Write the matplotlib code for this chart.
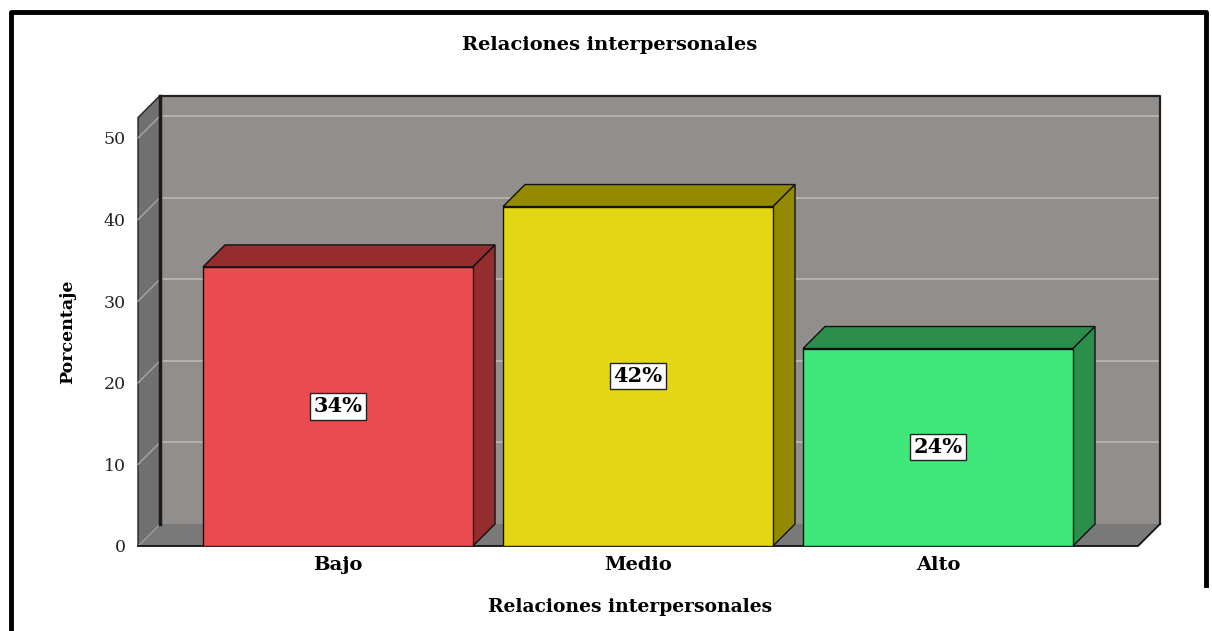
import matplotlib
matplotlib.use("Agg")
import matplotlib.pyplot as plt
from matplotlib.patches import Polygon
from matplotlib.lines import Line2D

# ---- data ----
categories = ["Bajo", "Medio", "Alto"]
values = [34.2, 41.6, 24.2]
front_colors = ["#EA4B4F", "#E2D712", "#40E87C"]
shade_colors = ["#952C2E", "#948A00", "#2B8E4C"]
y_ticks = [0, 10, 20, 30, 40, 50]
title = "Relaciones interpersonales"
x_label = "Relaciones interpersonales"
y_label = "Porcentaje"

W, H = 1212, 631
fig = plt.figure(figsize=(W / 100, H / 100), dpi=100)
fig.patch.set_facecolor("white")

# front plane geometry in pixels
fx0, fx1 = 138, 1138
fy0 = 546          # value 0
ymax = 52.5
px_per_unit = 8.16
fytop = fy0 - ymax * px_per_unit
ax = fig.add_axes([fx0 / W, (H - fy0) / H, (fx1 - fx0) / W, (fy0 - fytop) / H])
x0, x1 = -2 / 3, 8 / 3
ax.set_xlim(x0, x1)
ax.set_ylim(0, ymax)
for s in ax.spines.values():
    s.set_visible(False)
ax.set_facecolor("none")

# depth in data units
depth_px = 22
DX = depth_px * (x1 - x0) / (fx1 - fx0)
DY = depth_px * ymax / (fy0 - fytop)

wall_c = "#928E8B"
grid_c = "#BCB8B4"
left_c = "#717070"
floor_c = "#7A7979"

# back wall
ax.add_patch(Polygon([(x0 + DX, DY), (x1 + DX, DY), (x1 + DX, ymax + DY), (x0 + DX, ymax + DY)],
                     closed=True, facecolor=wall_c, edgecolor="none", zorder=1, clip_on=False))
for t in y_ticks[1:]:
    ax.add_line(Line2D([x0 + DX, x1 + DX], [t + DY, t + DY], color=grid_c, lw=1.2, zorder=1.5, clip_on=False))
ax.add_line(Line2D([x0 + DX, x1 + DX, x1 + DX], [ymax + DY, ymax + DY, DY], color="#222222", lw=1.6,
                   zorder=2, clip_on=False))
ax.add_line(Line2D([x0 + DX, x0 + DX], [DY, ymax + DY], color="#1a1a1a", lw=2.5, zorder=2, clip_on=False))

# left wall
ax.add_patch(Polygon([(x0, 0), (x0, ymax), (x0 + DX, ymax + DY), (x0 + DX, DY)],
                     closed=True, facecolor=left_c, edgecolor="#222222", lw=1, zorder=1, clip_on=False))
for t in y_ticks:
    ax.add_line(Line2D([x0, x0 + DX], [t, t + DY], color="#A8A6A4", lw=1, zorder=1.5, clip_on=False))

# floor
ax.add_patch(Polygon([(x0, 0), (x1, 0), (x1 + DX, DY), (x0 + DX, DY)],
                     closed=True, facecolor=floor_c, edgecolor="none", zorder=1, clip_on=False))
ax.add_line(Line2D([x0, x1, x1 + DX], [0, 0, DY], color="#111111", lw=1.3, zorder=2, clip_on=False))

# bars
bw = 0.9
xs = list(range(len(categories)))
bars = ax.bar(xs, values, width=bw, color=front_colors, edgecolor="#111111", lw=1, zorder=5)
for i, (v, sc) in enumerate(zip(values, shade_colors)):
    xl, xr = i - bw / 2, i + bw / 2
    ax.add_patch(Polygon([(xl, v), (xr, v), (xr + DX, v + DY), (xl + DX, v + DY)], closed=True,
                         facecolor=sc, edgecolor="#111111", lw=1, zorder=4, clip_on=False))
    ax.add_patch(Polygon([(xr, 0), (xr, v), (xr + DX, v + DY), (xr + DX, DY)], closed=True,
                         facecolor=sc, edgecolor="#111111", lw=1, zorder=4, clip_on=False))
    ax.text(i, v / 2, f"{v:.0f}%", ha="center", va="center", fontsize=15, fontweight="bold",
            family="DejaVu Serif", zorder=7,
            bbox=dict(boxstyle="square,pad=0.15", facecolor="white", edgecolor="#222222", lw=1))

# ticks
ax.set_yticks(y_ticks)
ax.set_yticklabels([str(t) for t in y_ticks], family="DejaVu Serif", fontsize=12.5, color="#222222")
ax.tick_params(axis="y", length=0, pad=9)
ax.set_xticks(xs)
ax.set_xticklabels(categories, family="DejaVu Serif", fontsize=14, fontweight="bold")
ax.tick_params(axis="x", length=0, pad=7)

fig.text(610 / W, (H - 45) / H, title, ha="center", va="center", family="DejaVu Serif",
         fontweight="bold", fontsize=14)
fig.text(630 / W, (H - 607) / H, x_label, ha="center", va="center", family="DejaVu Serif",
         fontweight="bold", fontsize=13.5)
fig.text(68 / W, (H - 332) / H, y_label, ha="center", va="center", rotation=90, family="DejaVu Serif",
         fontweight="bold", fontsize=12.5)

# outer frame
fig.add_artist(Line2D([11 / W, 11 / W, 1206 / W, 1206 / W], [0, (H - 12) / H, (H - 12) / H, (H - 585) / H],
                      color="black", lw=3.5, transform=fig.transFigure))

fig.savefig("out.png", dpi=100, facecolor="white")
